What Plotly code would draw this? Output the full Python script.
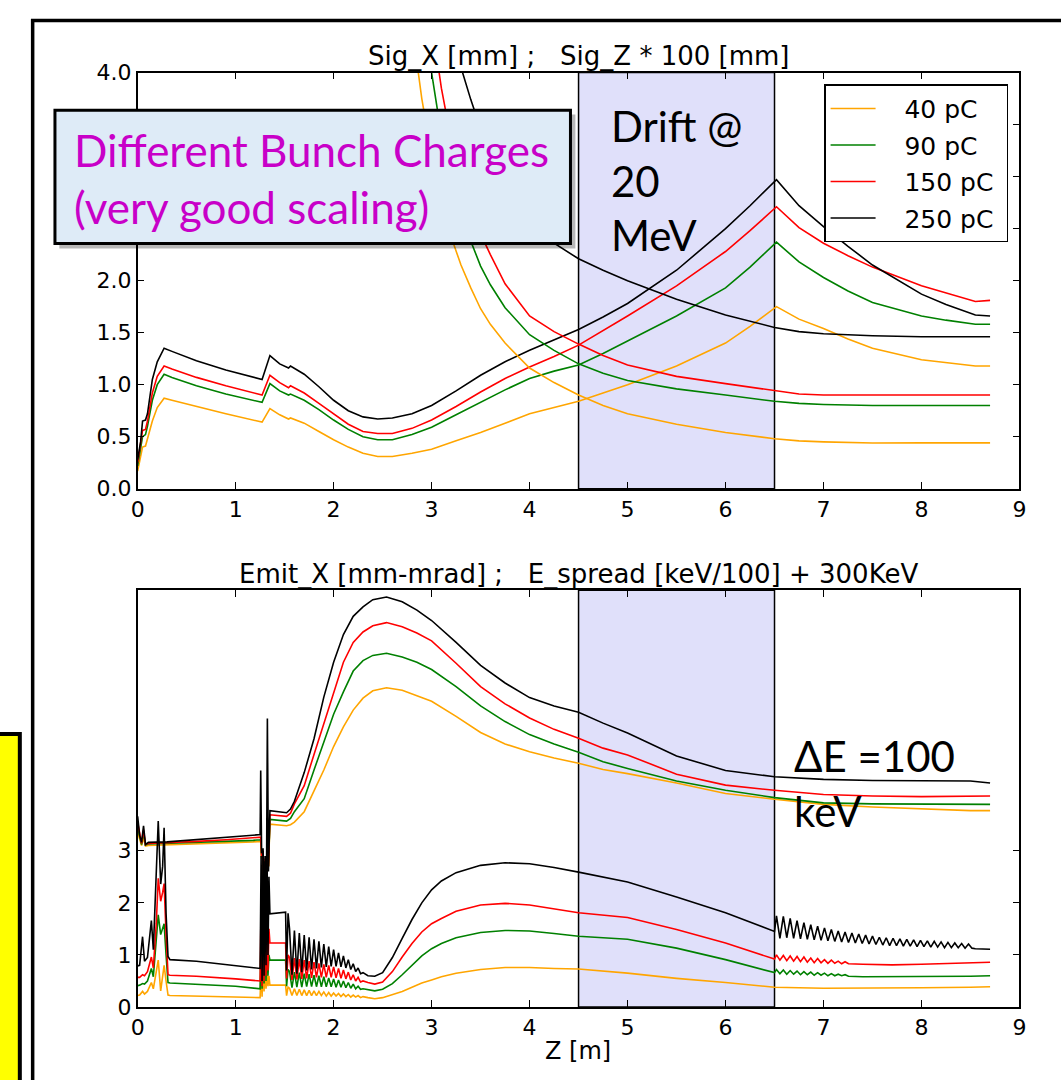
import plotly.graph_objects as go

W, H = 1061, 1080

CHARGES = ["40 pC", "90 pC", "150 pC", "250 pC"]
COLORS = ["#FFA500", "#008000", "#FF0000", "#000000"]
DRIFT = [4.5, 6.5]

# ---------------- top panel: Sig_X [mm] ----------------
Z_SIGX = [0.0, 0.03, 0.05, 0.08, 0.10, 0.15, 0.20, 0.27, 0.35, 0.6,
          0.9, 1.27, 1.35, 1.45, 1.54, 1.56, 1.7, 1.85, 2.0, 2.15,
          2.3, 2.45, 2.6, 2.8, 3.0, 3.25, 3.5, 3.75, 4.0, 4.25,
          4.5, 4.75, 5.0, 5.5, 6.0, 6.25, 6.52, 6.75, 7.0, 7.25,
          7.5, 8.0, 8.25, 8.55, 8.7]
SIGX_40 = [0.17, 0.30, 0.40, 0.41, 0.48, 0.65, 0.78, 0.87, 0.85, 0.79,
           0.72, 0.64, 0.77, 0.71, 0.67, 0.68, 0.63, 0.55, 0.47, 0.40,
           0.34, 0.31, 0.31, 0.34, 0.38, 0.46, 0.54, 0.63, 0.72, 0.78,
           0.84, 0.92, 1.00, 1.18, 1.40, 1.56, 1.75, 1.63, 1.54, 1.44,
           1.35, 1.24, 1.21, 1.18, 1.18]
SIGX_90 = [0.22, 0.38, 0.50, 0.52, 0.60, 0.85, 1.00, 1.10, 1.07, 0.99,
           0.91, 0.83, 1.01, 0.94, 0.90, 0.91, 0.85, 0.76, 0.66, 0.57,
           0.50, 0.47, 0.47, 0.52, 0.59, 0.71, 0.83, 0.95, 1.06, 1.13,
           1.19, 1.30, 1.42, 1.66, 1.93, 2.13, 2.37, 2.18, 2.03, 1.90,
           1.79, 1.66, 1.62, 1.58, 1.58]
SIGX_150 = [0.25, 0.42, 0.56, 0.57, 0.65, 0.92, 1.08, 1.18, 1.15, 1.07,
            0.99, 0.90, 1.09, 1.02, 0.97, 0.99, 0.92, 0.82, 0.72, 0.62,
            0.55, 0.53, 0.53, 0.58, 0.66, 0.79, 0.93, 1.06, 1.17, 1.27,
            1.38, 1.52, 1.66, 1.95, 2.28, 2.48, 2.71, 2.51, 2.36, 2.24,
            2.13, 1.95, 1.88, 1.80, 1.81]
SIGX_250 = [0.28, 0.45, 0.65, 0.66, 0.72, 1.05, 1.22, 1.35, 1.32, 1.23,
            1.14, 1.05, 1.28, 1.20, 1.16, 1.18, 1.10, 0.98, 0.85, 0.75,
            0.69, 0.67, 0.68, 0.72, 0.80, 0.94, 1.09, 1.22, 1.33, 1.43,
            1.53, 1.65, 1.78, 2.10, 2.50, 2.72, 2.97, 2.72, 2.52, 2.33,
            2.15, 1.87, 1.77, 1.67, 1.66]

# ---------------- top panel: Sig_Z * 100 [mm] ----------------
Z_SIGZ = [2.7, 2.85, 2.9, 3.0, 3.1, 3.2, 3.3, 3.4, 3.5, 3.6, 3.75, 4.0,
          4.25, 4.5, 4.75, 5.0, 5.5, 6.0, 6.5, 6.75, 7.0, 7.5, 8.0, 8.7]
SIGZ_40 = [5.5, 4.1, 3.75, 3.2, 2.75, 2.42, 2.15, 1.93, 1.73, 1.58, 1.40, 1.16,
           1.02, 0.90, 0.80, 0.72, 0.62, 0.54, 0.48, 0.46, 0.45, 0.44, 0.44, 0.44]
SIGZ_90 = [6.0, 5.0, 4.6, 4.0, 3.4, 2.95, 2.62, 2.38, 2.14, 1.96, 1.74, 1.48,
           1.33, 1.20, 1.11, 1.04, 0.96, 0.90, 0.84, 0.82, 0.81, 0.80, 0.80, 0.80]
SIGZ_150 = [7.0, 5.6, 5.2, 4.5, 3.85, 3.35, 2.98, 2.68, 2.45, 2.25, 1.97, 1.66,
            1.51, 1.39, 1.28, 1.19, 1.08, 1.01, 0.94, 0.91, 0.90, 0.90, 0.90, 0.90]
SIGZ_250 = [8.0, 6.5, 6.0, 5.3, 4.8, 4.35, 4.05, 3.74, 3.46, 3.2, 2.95, 2.58,
            2.36, 2.21, 2.10, 2.00, 1.82, 1.67, 1.55, 1.51, 1.49, 1.47, 1.46, 1.46]

# ---------------- bottom panel: Emit_X [mm-mrad] ----------------
Z_EMIT = [0.0, 0.02, 0.05, 0.07, 0.10, 0.14, 0.16, 0.19, 0.21, 0.235, 0.255, 0.27, 0.29, 0.31, 0.33,
          0.6, 1.0, 1.25,
          1.26, 1.27, 1.28, 1.29, 1.30, 1.31, 1.32, 1.33, 1.34, 1.35,
          1.51, 1.52, 1.535,
          1.55, 1.575, 1.6, 1.625, 1.65, 1.675, 1.7, 1.725, 1.75, 1.775, 1.8, 1.825, 1.85, 1.875,
          1.9, 1.925, 1.95, 1.975, 2.0, 2.025, 2.05, 2.075, 2.1, 2.125, 2.15, 2.175, 2.2, 2.225,
          2.25, 2.275, 2.3,
          2.35, 2.42, 2.5, 2.6, 2.7, 2.8, 2.9, 3.0, 3.1, 3.25, 3.5, 3.75, 4.0, 4.25, 4.5,
          5.0, 5.5, 6.0, 6.5]
EMIT_40 = [0.22, 0.23, 0.30, 0.25, 0.30, 0.47, 0.35, 0.70, 0.90, 0.31, 0.60, 0.80, 0.50, 0.23, 0.22,
           0.21, 0.20, 0.18,
           0.80, 0.20, 0.90, 0.30, 0.80, 0.35, 0.70, 0.40, 0.60, 0.42,
           0.42, 0.22, 0.38,
           0.36, 0.22, 0.35, 0.22, 0.34, 0.22, 0.33, 0.22, 0.32, 0.22, 0.31, 0.22, 0.30, 0.22,
           0.29, 0.21, 0.28, 0.21, 0.27, 0.21, 0.26, 0.20, 0.25, 0.20, 0.24, 0.19, 0.23, 0.19,
           0.22, 0.18, 0.20,
           0.18, 0.16, 0.18, 0.24, 0.30, 0.38, 0.46, 0.52, 0.58, 0.65, 0.72, 0.76, 0.76, 0.74, 0.73,
           0.65, 0.55, 0.47, 0.38]
EMIT_90 = [0.41, 0.42, 0.45, 0.44, 0.50, 0.74, 0.58, 1.20, 1.77, 1.39, 1.50, 1.60, 1.00, 0.47, 0.46,
           0.44, 0.40, 0.35,
           1.40, 0.35, 1.50, 0.45, 1.40, 0.50, 1.20, 0.60, 1.00, 0.90,
           0.90, 0.40, 0.72,
           0.68, 0.37, 0.67, 0.38, 0.66, 0.38, 0.64, 0.39, 0.63, 0.39, 0.61, 0.39, 0.60, 0.39,
           0.58, 0.39, 0.56, 0.39, 0.54, 0.38, 0.52, 0.38, 0.50, 0.37, 0.47, 0.36, 0.44, 0.35,
           0.40, 0.34, 0.35,
           0.33, 0.31, 0.34, 0.45, 0.62, 0.80, 0.98, 1.12, 1.22, 1.33, 1.43, 1.47, 1.46, 1.41, 1.36,
           1.30, 1.13, 0.91, 0.66]
EMIT_150 = [0.57, 0.57, 0.62, 0.60, 0.68, 0.96, 0.75, 1.60, 2.47, 2.03, 2.20, 2.37, 1.40, 0.62, 0.61,
            0.59, 0.54, 0.50,
            2.00, 0.40, 2.20, 0.50, 2.00, 0.60, 1.80, 0.70, 1.50, 1.23,
            1.23, 0.55, 1.00,
            0.95, 0.52, 0.94, 0.53, 0.92, 0.54, 0.90, 0.55, 0.88, 0.56, 0.86, 0.57, 0.84, 0.57,
            0.82, 0.57, 0.80, 0.57, 0.77, 0.56, 0.74, 0.55, 0.71, 0.54, 0.67, 0.52, 0.62, 0.50,
            0.57, 0.48, 0.50,
            0.47, 0.44, 0.48, 0.68, 0.96, 1.22, 1.44, 1.60, 1.70, 1.84, 1.96, 1.99, 1.96, 1.89, 1.81,
            1.72, 1.49, 1.23, 0.92]
EMIT_250 = [0.79, 0.80, 1.35, 0.88, 0.95, 1.66, 1.10, 2.60, 3.57, 2.36, 2.70, 3.44, 1.80, 0.97, 0.91,
            0.88, 0.80, 0.74,
            2.90, 0.50, 3.00, 0.60, 2.80, 0.80, 3.00, 1.00, 2.50, 1.79,
            1.82, 0.70, 1.80,
            1.50, 0.62, 1.47, 0.64, 1.42, 0.67, 1.38, 0.70, 1.34, 0.72, 1.30, 0.74, 1.26, 0.76,
            1.21, 0.77, 1.16, 0.78, 1.10, 0.78, 1.04, 0.77, 0.98, 0.75, 0.91, 0.72, 0.83, 0.68,
            0.75, 0.64, 0.66,
            0.60, 0.59, 0.66, 0.95, 1.32, 1.68, 2.00, 2.25, 2.42, 2.58, 2.72, 2.77, 2.75, 2.68, 2.59,
            2.40, 2.11, 1.81, 1.45]

# tails after the drift (z > 6.5)
Z_TAIL_40 = [7.0, 7.5, 8.0, 8.5, 8.7]
EMIT_TAIL_40 = [0.36, 0.36, 0.37, 0.38, 0.39]
Z_TAIL_90_150 = [6.52, 6.555, 6.59, 6.625, 6.66, 6.695, 6.73, 6.765, 6.8, 6.835,
                 6.87, 6.905, 6.94, 6.975, 7.01, 7.045, 7.08, 7.115, 7.15, 7.185,
                 7.22, 7.255, 7.4, 7.7, 8.0, 8.5, 8.7]
EMIT_TAIL_90 = [0.72, 0.64, 0.71, 0.63, 0.70, 0.63, 0.69, 0.62, 0.68, 0.62,
                0.67, 0.61, 0.66, 0.61, 0.65, 0.60, 0.64, 0.60, 0.63, 0.60,
                0.62, 0.59, 0.58, 0.58, 0.58, 0.59, 0.60]
EMIT_TAIL_150 = [1.00, 0.90, 0.99, 0.89, 0.98, 0.88, 0.97, 0.87, 0.96, 0.86,
                 0.94, 0.85, 0.93, 0.85, 0.91, 0.84, 0.90, 0.84, 0.88, 0.83,
                 0.87, 0.83, 0.82, 0.81, 0.82, 0.85, 0.86]
Z_TAIL_250 = [6.52, 6.555, 6.59, 6.625, 6.66, 6.695, 6.73, 6.765, 6.8, 6.835,
              6.87, 6.905, 6.94, 6.975, 7.01, 7.045, 7.08, 7.115, 7.15, 7.185,
              7.22, 7.255, 7.29, 7.325, 7.36, 7.395, 7.43, 7.465, 7.5, 7.535,
              7.57, 7.605, 7.64, 7.675, 7.71, 7.745, 7.78, 7.815, 7.85, 7.885,
              7.92, 7.955, 7.99, 8.025, 8.06, 8.095, 8.13, 8.165, 8.2, 8.235,
              8.27, 8.305, 8.34, 8.375, 8.41, 8.445, 8.48, 8.515, 8.55, 8.7]
EMIT_TAIL_250 = [1.75, 1.32, 1.74, 1.33, 1.70, 1.32, 1.66, 1.31, 1.62, 1.30,
                 1.58, 1.29, 1.55, 1.28, 1.52, 1.27, 1.49, 1.26, 1.46, 1.25,
                 1.44, 1.24, 1.42, 1.23, 1.40, 1.22, 1.38, 1.21, 1.36, 1.20,
                 1.34, 1.19, 1.33, 1.18, 1.32, 1.18, 1.31, 1.17, 1.30, 1.17,
                 1.29, 1.16, 1.28, 1.16, 1.27, 1.15, 1.26, 1.15, 1.25, 1.14,
                 1.24, 1.14, 1.23, 1.14, 1.22, 1.13, 1.21, 1.13, 1.12, 1.11]

# ---------------- bottom panel: E_spread [keV/100] + 300 keV ----------------
Z_ESPR = [0.0, 0.02, 0.04, 0.06, 0.08, 0.11, 0.3, 0.6, 0.9, 1.18, 1.25,
          1.256, 1.265, 1.28, 1.29, 1.30, 1.31, 1.324, 1.335,
          1.35, 1.52, 1.56, 1.6, 1.7, 1.8, 1.9, 2.0, 2.1, 2.2, 2.3, 2.4, 2.54,
          2.7, 2.85, 3.0, 3.25, 3.5, 3.75, 4.0, 4.25, 4.5, 4.75, 5.0, 5.5, 6.0, 6.5,
          7.0, 7.5, 8.0, 8.5, 8.7]
ESPR_40 = [3.35, 3.20, 3.10, 3.25, 3.09, 3.10, 3.11, 3.13, 3.15, 3.17, 3.18,
           3.19, 2.85, 2.90, 1.30, 2.80, 1.10, 3.00, 2.70,
           3.51, 3.48, 3.50, 3.55, 3.75, 4.15, 4.55, 5.00, 5.38, 5.70, 5.93, 6.07, 6.13,
           6.08, 5.98, 5.87, 5.58, 5.27, 5.05, 4.90, 4.78, 4.68, 4.56, 4.48, 4.30, 4.10, 3.99,
           3.89, 3.84, 3.80, 3.77, 3.77]
ESPR_90 = [3.45, 3.25, 3.12, 3.35, 3.11, 3.13, 3.14, 3.16, 3.18, 3.20, 3.21,
           3.22, 2.90, 2.95, 1.20, 2.80, 1.00, 3.10, 2.70,
           3.60, 3.57, 3.62, 3.75, 4.00, 4.55, 5.07, 5.62, 6.05, 6.45, 6.65, 6.75, 6.79,
           6.72, 6.62, 6.48, 6.15, 5.78, 5.48, 5.23, 5.05, 4.89, 4.71, 4.58, 4.34, 4.16, 4.02,
           3.92, 3.90, 3.89, 3.89, 3.89]
ESPR_150 = [3.55, 3.30, 3.14, 3.40, 3.12, 3.14, 3.15, 3.18, 3.21, 3.24, 3.25,
            3.26, 2.90, 3.00, 1.10, 2.85, 0.90, 3.20, 2.70,
            3.69, 3.66, 3.72, 3.90, 4.25, 4.85, 5.45, 6.06, 6.62, 7.00, 7.20, 7.32, 7.38,
            7.30, 7.18, 7.03, 6.60, 6.15, 5.82, 5.55, 5.33, 5.16, 4.97, 4.84, 4.47, 4.26, 4.16,
            4.08, 4.05, 4.04, 4.04, 4.05]
ESPR_250 = [3.66, 3.30, 3.16, 3.48, 3.12, 3.16, 3.17, 3.21, 3.25, 3.30, 3.31,
            4.54, 2.95, 3.05, 0.90, 2.90, 0.70, 5.54, 2.60,
            3.77, 3.73, 3.80, 3.95, 4.50, 5.15, 5.95, 6.62, 7.15, 7.50, 7.68, 7.82, 7.87,
            7.78, 7.62, 7.42, 7.00, 6.56, 6.22, 5.94, 5.78, 5.66, 5.45, 5.26, 4.82, 4.54, 4.42,
            4.37, 4.35, 4.34, 4.34, 4.30]

TOP_YTICKS = [0.0, 0.5, 1.0, 1.5, 2.0, 2.5, 3.0, 3.5, 4.0]
# the labels 2.5 / 3.0 / 3.5 are hidden under the callout box in the original slide
TOP_YTICKTEXT = ["0.0", "0.5", "1.0", "1.5", "2.0", "", "", "", "4.0"]
BOT_YTICKS = [0, 1, 2, 3]
XTICKS = [0, 1, 2, 3, 4, 5, 6, 7, 8, 9]


def px_x(p):
    return p / W


def px_y(p):
    return 1 - p / H


fig = go.Figure()
LW = 1.6
PAD = "\u00a0\u00a0\u00a0"

sigx = [SIGX_40, SIGX_90, SIGX_150, SIGX_250]
sigz = [SIGZ_40, SIGZ_90, SIGZ_150, SIGZ_250]
for i in range(4):
    fig.add_trace(go.Scatter(x=Z_SIGX, y=sigx[i], mode="lines", name=PAD + CHARGES[i] + "\u00a0",
                             legendgroup=CHARGES[i], line=dict(color=COLORS[i], width=LW),
                             xaxis="x", yaxis="y", showlegend=True))
for i in range(4):
    fig.add_trace(go.Scatter(x=Z_SIGZ, y=sigz[i], mode="lines", name=CHARGES[i],
                             legendgroup=CHARGES[i], line=dict(color=COLORS[i], width=LW),
                             xaxis="x", yaxis="y", showlegend=False))

espr = [ESPR_40, ESPR_90, ESPR_150, ESPR_250]
for i in range(4):
    fig.add_trace(go.Scatter(x=Z_ESPR, y=espr[i], mode="lines", name=CHARGES[i],
                             legendgroup=CHARGES[i], line=dict(color=COLORS[i], width=LW),
                             xaxis="x2", yaxis="y2", showlegend=False))

emit_x = [Z_EMIT + Z_TAIL_40, Z_EMIT + Z_TAIL_90_150, Z_EMIT + Z_TAIL_90_150, Z_EMIT + Z_TAIL_250]
emit_y = [EMIT_40 + EMIT_TAIL_40, EMIT_90 + EMIT_TAIL_90, EMIT_150 + EMIT_TAIL_150, EMIT_250 + EMIT_TAIL_250]
for i in range(4):
    fig.add_trace(go.Scatter(x=emit_x[i], y=emit_y[i], mode="lines", name=CHARGES[i],
                             legendgroup=CHARGES[i], line=dict(color=COLORS[i], width=LW),
                             xaxis="x2", yaxis="y2", showlegend=False))

TICKFONT = dict(family="DejaVu Sans", size=22, color="black")
axis_common = dict(showline=True, linecolor="black", linewidth=1.5, mirror="allticks",
                   ticks="inside", ticklen=7, tickwidth=1, tickcolor="black",
                   showgrid=False, zeroline=False, tickfont=TICKFONT)

XDOM = [px_x(132.4), px_x(1026)]
fig.update_layout(
    width=W, height=H, margin=dict(l=0, r=0, t=0, b=0),
    paper_bgcolor="white", plot_bgcolor="white",
    xaxis=dict(domain=XDOM, range=[0, 9], tickvals=XTICKS, anchor="y", **axis_common),
    yaxis=dict(domain=[px_y(488), px_y(62)], range=[0, 4], tickvals=TOP_YTICKS,
               ticktext=TOP_YTICKTEXT, anchor="x", **axis_common),
    xaxis2=dict(domain=XDOM, range=[0, 9], tickvals=XTICKS, anchor="y2", **axis_common),
    yaxis2=dict(domain=[px_y(1018.6), px_y(592)], range=[0, 8], tickvals=BOT_YTICKS,
                anchor="x2", **axis_common),
    showlegend=True,
    legend=dict(x=px_x(828), y=px_y(74), xanchor="left", yanchor="top",
                bgcolor="white", bordercolor="black", borderwidth=1.5,
                font=dict(family="DejaVu Sans", size=25, color="black"),
                traceorder="grouped", tracegroupgap=1, itemwidth=45),
)

shapes = []
# drift region in both panels
shapes.append(dict(type="rect", xref="x", yref="y domain", x0=DRIFT[0], x1=DRIFT[1], y0=0, y1=1,
                   fillcolor="rgb(224,224,250)", line=dict(color="black", width=1.5), layer="below"))
shapes.append(dict(type="rect", xref="x2", yref="y2 domain", x0=DRIFT[0], x1=DRIFT[1], y0=0, y1=1,
                   fillcolor="rgb(224,224,250)", line=dict(color="black", width=1.5), layer="below"))
# slide frame
shapes.append(dict(type="rect", xref="paper", yref="paper", x0=px_x(26), x1=px_x(1080),
                   y0=px_y(1100), y1=px_y(8.6), line=dict(color="black", width=3.5),
                   fillcolor="rgba(0,0,0,0)", layer="above"))
# yellow box at left edge
shapes.append(dict(type="rect", xref="paper", yref="paper", x0=px_x(-20), x1=px_x(13),
                   y0=px_y(1100), y1=px_y(739), line=dict(color="black", width=4),
                   fillcolor="#FFFF00", layer="above"))
# callout box shadow + box
shapes.append(dict(type="rect", xref="paper", yref="paper", x0=px_x(53), x1=px_x(576),
                   y0=px_y(242), y1=px_y(105), line=dict(width=0),
                   fillcolor="rgba(0,0,0,0.28)", layer="above"))
shapes.append(dict(type="rect", xref="paper", yref="paper", x0=px_x(48.6), x1=px_x(571),
                   y0=px_y(237), y1=px_y(100.5), line=dict(color="black", width=3),
                   fillcolor="rgb(222,235,247)", layer="above"))
fig.update_layout(shapes=shapes)

ann = []
ann.append(dict(text="Sig_X [mm] ;   Sig_Z * 100 [mm]", x=px_x(579), y=px_y(45), xref="paper", yref="paper",
                xanchor="center", yanchor="middle", showarrow=False,
                font=dict(family="DejaVu Sans", size=26, color="black")))
ann.append(dict(text="Emit_X [mm-mrad] ;   E_spread [keV/100] + 300KeV", x=px_x(579), y=px_y(575),
                xref="paper", yref="paper", xanchor="center", yanchor="middle", showarrow=False,
                font=dict(family="DejaVu Sans", size=26, color="black")))
ann.append(dict(text="Z [m]", x=px_x(579), y=px_y(1064), xref="paper", yref="paper",
                xanchor="center", yanchor="middle", showarrow=False,
                font=dict(family="DejaVu Sans", size=24, color="black")))
ann.append(dict(text="Different Bunch Charges<br>(very good scaling)", x=px_x(66), y=px_y(170),
                xref="paper", yref="paper", xanchor="left", yanchor="middle", align="left",
                showarrow=False, font=dict(family="Lato", size=44, color="#C800C8")))
ann.append(dict(text="Drift @<br>20<br>MeV", x=px_x(610), y=px_y(172),
                xref="paper", yref="paper", xanchor="left", yanchor="middle", align="left",
                showarrow=False, font=dict(family="Lato", size=42, color="black")))
ann.append(dict(text="\u0394E =100<br>keV", x=px_x(795), y=px_y(790),
                xref="paper", yref="paper", xanchor="left", yanchor="middle", align="left",
                showarrow=False, font=dict(family="Lato", size=42, color="black")))
fig.update_layout(annotations=ann)

fig.write_html("out.html")
